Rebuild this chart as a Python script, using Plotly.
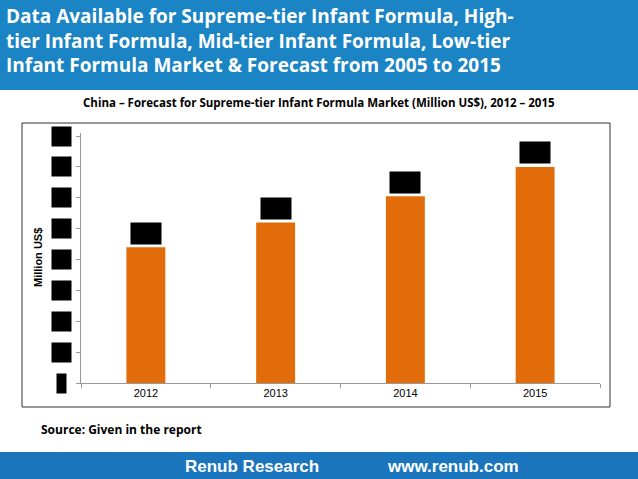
import plotly.graph_objects as go

years = ["2012", "2013", "2014", "2015"]
values = [4.4, 5.2, 6.05, 7.0]
y_ticks = [0, 1, 2, 3, 4, 5, 6, 7, 8]

W, H = 638, 479
L, R, T, B = 81, 38, 133, 96
pw, ph = W - L - R, H - T - B


def px(x):
    return (x - L) / pw


def py(y):
    return (H - B - y) / ph


fig = go.Figure(go.Bar(x=years, y=values, width=0.3, marker_color="#e36c0a",
                       marker_line_width=0))

ann = []
# redacted value labels above bars
for i, v in enumerate(values):
    ann.append(dict(x=i, y=v, yref="y", xref="x", yshift=14, text=f"{v:.2f}",
                    showarrow=False, bgcolor="black", font=dict(color="black", size=14),
                    borderpad=1, yanchor="middle"))
# redacted tick labels
for t in y_ticks:
    ann.append(dict(x=px(61), xref="paper", y=t, yref="y", text=str(t) if t == 0 else f"{t}.0",
                    showarrow=False, bgcolor="black", font=dict(color="black", size=12),
                    borderpad=1, xanchor="center", yanchor="middle"))

ann += [
    dict(x=px(4), y=py(1), xref="paper", yref="paper", xanchor="left", yanchor="top",
         align="left", showarrow=False,
         text="<b>Data Available for Supreme-tier Infant Formula, High-<br>tier Infant Formula, Mid-tier Infant Formula, Low-tier<br>Infant Formula Market & Forecast from 2005 to 2015</b>",
         font=dict(family="Open Sans", size=19, color="white")),
    dict(x=px(319), y=py(103), xref="paper", yref="paper", xanchor="center", yanchor="middle",
         showarrow=False,
         text="<b>China – Forecast for Supreme-tier Infant Formula Market (Million US$), 2012 – 2015</b>",
         font=dict(family="Open Sans", size=11.5, color="black")),
    dict(x=px(39), y=py(429), xref="paper", yref="paper", xanchor="left", yanchor="middle",
         showarrow=False,
         text="<b>Source: Given in the report</b>", font=dict(family="Open Sans", size=12, color="black")),
    dict(x=px(183), y=py(466), xref="paper", yref="paper", xanchor="left", yanchor="middle",
         showarrow=False,
         text="<b>Renub Research</b>", font=dict(family="Liberation Sans", size=17, color="white")),
    dict(x=px(385), y=py(466), xref="paper", yref="paper", xanchor="left", yanchor="middle",
         showarrow=False,
         text="<b>www.renub.com</b>", font=dict(family="Liberation Sans", size=17, color="white")),
    dict(x=px(38), y=py(258), xref="paper", yref="paper", xanchor="center", yanchor="middle",
         textangle=-90, showarrow=False,
         text="<b>Million US$</b>", font=dict(family="Liberation Sans", size=11, color="black")),
]

shapes = [
    dict(type="rect", xref="paper", yref="paper", x0=px(0), x1=px(W), y0=py(90), y1=py(0),
         fillcolor="#1b84c4", line_width=0, layer="below"),
    dict(type="rect", xref="paper", yref="paper", x0=px(0), x1=px(W), y0=py(H), y1=py(452),
         fillcolor="#1b75bd", line_width=0, layer="below"),
    dict(type="rect", xref="paper", yref="paper", x0=px(22), x1=px(610), y0=py(407), y1=py(123),
         line=dict(color="#333", width=1), layer="below"),
]

fig.update_layout(
    width=W, height=H, margin=dict(l=L, r=R, t=T, b=B),
    paper_bgcolor="white", plot_bgcolor="white", showlegend=False,
    annotations=ann, shapes=shapes,
    xaxis=dict(type="category", range=[-0.5, 3.5], automargin=False, showline=True,
               linecolor="#999", ticks="outside", tickcolor="#999", tickangle=0,
               ticklen=4, tickson="boundaries",
               tickfont=dict(family="Liberation Sans", size=11, color="black")),
    yaxis=dict(range=[0, 8.1], tickvals=y_ticks, showticklabels=False, showgrid=False,
               automargin=False, showline=True, linecolor="#999", ticks="outside",
               tickcolor="#999", ticklen=4),
)

# drop the browser's default 8px body margin so the figure fills the window
fig.write_html("out.html", config={"displayModeBar": False},
               post_script="document.body.style.margin='0';")
